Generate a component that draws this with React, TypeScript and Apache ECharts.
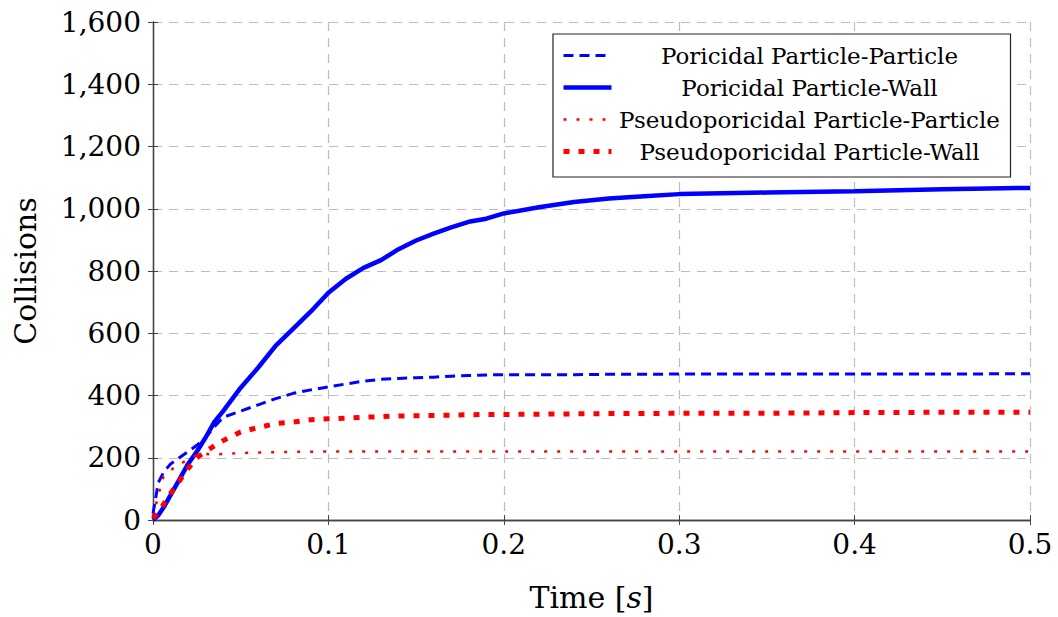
import React, { useEffect, useRef } from "react";
import * as echarts from "echarts";

const times = [0, 0.003, 0.006, 0.01, 0.015, 0.02, 0.025, 0.03, 0.035, 0.04, 0.05, 0.06, 0.07, 0.08, 0.09, 0.1, 0.11, 0.12, 0.13, 0.14, 0.15, 0.16, 0.17, 0.18, 0.19, 0.2, 0.22, 0.24, 0.26, 0.28, 0.3, 0.35, 0.4, 0.45, 0.5];

const poricidalPP = [20, 120, 153, 180, 200, 220, 240, 265, 300, 330, 350, 370, 390, 407, 418, 428, 437, 446, 452, 455, 457, 459, 462, 464, 466, 467, 467, 467, 468, 468, 469, 469, 469, 469, 470];
const poricidalPW = [0, 15, 40, 80, 130, 180, 220, 265, 315, 350, 425, 490, 560, 615, 670, 730, 775, 810, 835, 870, 898, 920, 940, 958, 968, 985, 1005, 1022, 1033, 1040, 1047, 1052, 1056, 1063, 1067];
const pseudoPP = [10, 80, 140, 160, 178, 195, 208, 212, 210, 212, 215, 217, 218, 219, 219, 220, 220, 220, 220, 220, 220, 220, 220, 220, 220, 220, 220, 220, 220, 220, 220, 220, 220, 220, 220];
const pseudoPW = [5, 25, 50, 85, 125, 165, 200, 220, 238, 255, 283, 297, 310, 315, 322, 325, 327, 330, 332, 334, 335, 336, 337, 338, 339, 339, 340, 341, 342, 342, 343, 343, 345, 346, 346];

const seriesNames = [
  "Poricidal Particle-Particle",
  "Poricidal Particle-Wall",
  "Pseudoporicidal Particle-Particle",
  "Pseudoporicidal Particle-Wall",
];

const xTicks = { min: 0, max: 0.5, interval: 0.1 };
const yTicks = { min: 0, max: 1600, interval: 200 };

const FONT = "DejaVu Serif";
const BLUE = "#0000ff";
const RED = "#ff0000";

const styles = [
  { color: BLUE, width: 3, type: [10, 6] as any },
  { color: BLUE, width: 4.5, type: "solid" as any },
  { color: RED, width: 2.5, type: [3, 10] as any },
  { color: RED, width: 5, type: [6, 9] as any },
];

export default function App() {
  const ref = useRef<HTMLDivElement>(null);
  useEffect(() => {
    if (!ref.current) return;
    const chart = echarts.init(ref.current, undefined, { renderer: "svg" });
    const pair = (vals: number[]) => times.map((t, i) => [t, vals[i]]);
    const frame = { show: true, lineStyle: { color: "#444", width: 1.3 } };
    const grid = { show: true, lineStyle: { color: "#bdbdbd", width: 1.2, type: [9, 7] as any } };
    const tick = { show: true, inside: true, length: 5, lineStyle: { color: "#444" } };
    const valueSets = [poricidalPP, poricidalPW, pseudoPP, pseudoPW];
    chart.setOption({
      animation: false,
      backgroundColor: "#fff",
      textStyle: { fontFamily: FONT },
      grid: { left: 153, right: 28, top: 22, bottom: 96 },
      legend: {
        left: 553,
        top: 34,
        orient: "vertical",
        itemWidth: 48,
        itemHeight: 14,
        itemGap: 9,
        padding: [10, 8, 14, 8],
        backgroundColor: "#fff",
        borderColor: "#222",
        borderWidth: 1.2,
        borderRadius: 0,
        itemStyle: { opacity: 0 },
        data: seriesNames.map((name, i) => ({
          name,
          itemStyle: { opacity: 0 },
          lineStyle: { color: styles[i].color, width: styles[i].width, type: styles[i].type },
        })),
        formatter: (name: string) => `{c|${name}}`,
        textStyle: {
          fontFamily: FONT,
          fontSize: 23,
          color: "#000",
          rich: { c: { width: 386, align: "center", fontSize: 23, fontFamily: FONT, lineHeight: 24 } },
        },
      },
      xAxis: [
        {
          type: "value",
          ...xTicks,
          name: "Time [{i|s}]",
          nameLocation: "middle",
          nameGap: 62,
          nameTextStyle: { fontFamily: FONT, fontSize: 30, color: "#000", rich: { i: { fontFamily: FONT, fontSize: 30, fontStyle: "italic" } } },
          axisLine: frame,
          axisTick: tick,
          axisLabel: { fontFamily: FONT, fontSize: 28, color: "#000", margin: 10 },
          splitLine: grid,
        },
        {
          type: "value",
          ...xTicks,
          position: "top",
          axisLine: frame,
          axisTick: tick,
          axisLabel: { show: false },
          splitLine: { show: false },
        },
      ],
      yAxis: [
        {
          type: "value",
          ...yTicks,
          name: "Collisions",
          nameLocation: "middle",
          nameGap: 113,
          nameTextStyle: { fontFamily: FONT, fontSize: 30, color: "#000" },
          axisLine: frame,
          axisTick: tick,
          axisLabel: {
            fontFamily: FONT,
            fontSize: 28,
            color: "#000",
            margin: 12,
            formatter: (v: number) => v.toLocaleString("en-US"),
          },
          splitLine: grid,
        },
        {
          type: "value",
          ...yTicks,
          position: "right",
          axisLine: frame,
          axisTick: tick,
          axisLabel: { show: false },
          splitLine: { show: false },
        },
      ],
      series: seriesNames.map((name, i) => ({
        name,
        type: "line",
        data: pair(valueSets[i]),
        showSymbol: false,
        symbol: "none",
        color: styles[i].color,
        lineStyle: { ...styles[i] },
      })),
    });
    return () => chart.dispose();
  }, []);
  return <div ref={ref} style={{ position: "fixed", left: 0, top: 0, width: 1058, height: 617 }} />;
}
